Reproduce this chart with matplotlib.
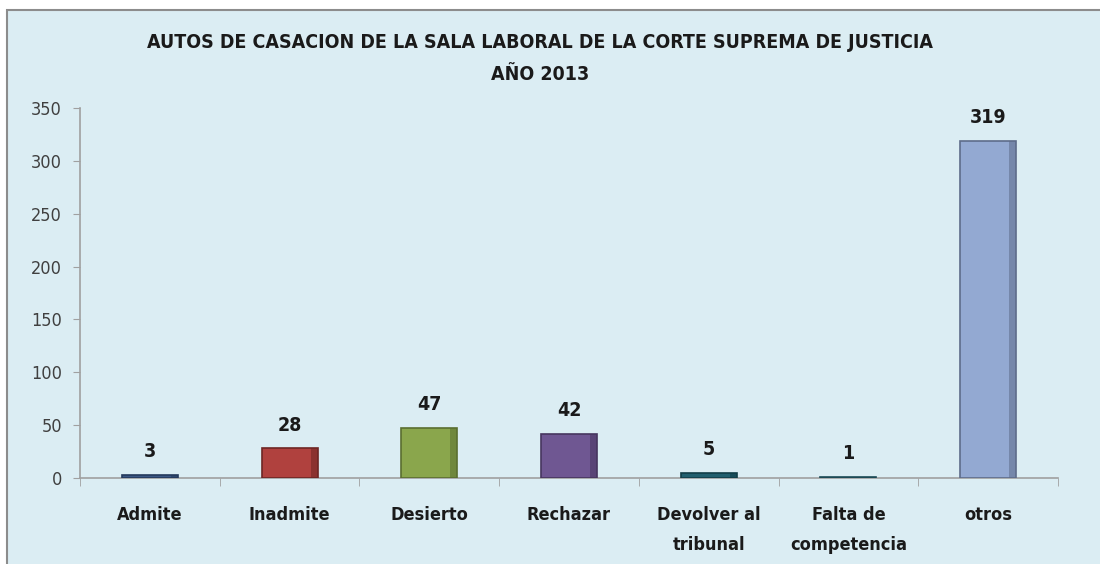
import matplotlib.pyplot as plt
from matplotlib.patches import Rectangle
import numpy as np

categories = ["Admite", "Inadmite", "Desierto", "Rechazar",
              "Devolver al\ntribunal", "Falta de\ncompetencia", "otros"]
values = [3, 28, 47, 42, 5, 1, 319]
colors = ["#3b5784", "#b0413e", "#8aa64c", "#6f5792", "#215f6e", "#2e6f80", "#93a9d2"]
edges = ["#243a5c", "#6e2624", "#5a6e30", "#47365f", "#123e48", "#1c4a55", "#5d6c8a"]
yticks = [0, 50, 100, 150, 200, 250, 300, 350]

plt.rcParams["font.family"] = ["DejaVu Sans"]
plt.rcParams["font.stretch"] = "condensed"

fig = plt.figure(figsize=(11, 5.64), dpi=100)
fig.patch.set_facecolor("white")

# chart area background with border
bg = fig.add_axes([0, 0, 1, 1], zorder=-1)
bg.set_xlim(0, 1100)
bg.set_ylim(564, 0)
bg.axis("off")
bg.add_patch(Rectangle((7, 10), 1200, 700, facecolor="#dbedf3",
                       edgecolor="#8c8c8c", linewidth=1.5))

ax = fig.add_axes([80 / 1100, 1 - 478 / 564, (1058 - 80) / 1100, (478 - 108) / 564])
ax.set_facecolor("none")

x = np.arange(len(categories))
w = 0.4
ax.bar(x, values, width=w, color=colors, edgecolor=edges, linewidth=1.2, zorder=3)
# darker shading on the right side of each bar (3D look)
ax.bar(x + w / 2 - 0.025, values, width=0.05, color=edges, alpha=0.55,
       linewidth=0, zorder=4)

for xi, v in zip(x, values):
    ax.annotate(str(v), (xi, v), xytext=(0, 10), textcoords="offset points",
                ha="center", va="bottom", fontsize=14, fontweight="bold", color="#1a1a1a")

ax.set_xlim(-0.5, len(categories) - 0.5)
ax.set_ylim(0, 350)
ax.set_yticks(yticks)
ax.set_yticklabels([str(t) for t in yticks], fontsize=13, color="#404040")
ax.tick_params(axis="y", length=5, color="#a0a0a0", pad=8)

ax.set_xticks(x)
ax.set_xticklabels(categories, fontsize=13, fontweight="bold", color="#1a1a1a",
                   linespacing=1.85)
ax.tick_params(axis="x", length=0, pad=20)
ax.set_xticks(np.arange(-0.5, len(categories)), minor=True)
ax.tick_params(axis="x", which="minor", length=6, color="#a0a0a0")

for s in ["top", "right"]:
    ax.spines[s].set_visible(False)
for s in ["left", "bottom"]:
    ax.spines[s].set_color("#a0a0a0")
    ax.spines[s].set_linewidth(1.2)

fig.text(540 / 1100, 1 - 42 / 564, "AUTOS DE CASACION DE LA SALA LABORAL DE LA CORTE SUPREMA DE JUSTICIA",
         ha="center", va="center", fontsize=14, fontweight="bold", color="#1a1a1a")
fig.text(540 / 1100, 1 - 75 / 564, "AÑO 2013",
         ha="center", va="center", fontsize=14, fontweight="bold", color="#1a1a1a")

fig.savefig("out.png", dpi=100)
